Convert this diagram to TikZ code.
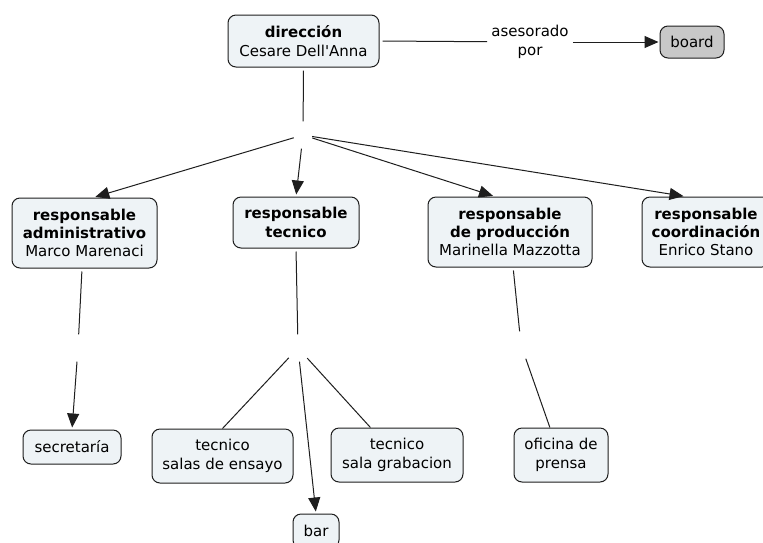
\documentclass[tikz,border=0pt]{standalone}
\usepackage{fontspec}
\setmainfont{DejaVu Sans}[Ligatures=TeXOff]
\usetikzlibrary{arrows.meta}
\definecolor{boxfill}{RGB}{238,243,246}
\definecolor{boardfill}{RGB}{200,200,200}
\definecolor{edge}{RGB}{30,30,30}

\begin{document}
\begin{tikzpicture}[x=1pt,y=-1pt,
  concept/.style={draw=edge, line width=1pt, rounded corners=8pt, fill=boxfill,
    inner sep=0pt, align=center, font=\fontsize{15}{18.3}\selectfont},
  linker/.style={inner sep=0pt, minimum width=18pt, minimum height=27pt},
  phrase/.style={inner sep=4pt, align=center, font=\fontsize{15}{18.3}\selectfont},
  conn/.style={draw=edge, line width=1pt},
  arr/.style={conn, -{Triangle[length=14pt,width=12pt]}, shorten >=2pt}
]
\fill[white] (0,0) rectangle (763,542);
\useasboundingbox (0,0) rectangle (763,542);

% concepts
\node[concept, minimum width=151pt, minimum height=52pt] (dir) at (303.5,41)
  {\textbf{dirección}\\Cesare Dell'Anna};
\node[concept, fill=boardfill, minimum width=64pt, minimum height=32pt] (board) at (692,42) {board};
\node[phrase] (ase) at (530,42) {asesorado\\por};

\node[concept, minimum width=145pt, minimum height=70pt] (adm) at (84.5,233)
  {\textbf{responsable}\\\textbf{administrativo}\\Marco Marenaci};
\node[concept, minimum width=126pt, minimum height=51pt] (tec) at (296,222.5)
  {\textbf{responsable}\\\textbf{tecnico}};
\node[concept, minimum width=164pt, minimum height=70pt] (prod) at (510,232)
  {\textbf{responsable}\\\textbf{de producción}\\Marinella Mazzotta};
\node[concept, minimum width=128pt, minimum height=70pt] (coord) at (706,232)
  {\textbf{responsable}\\\textbf{coordinación}\\Enrico Stano};

\node[concept, minimum width=98pt, minimum height=34pt] (sec) at (72,447) {secretaría};
\node[concept, minimum width=141pt, minimum height=54pt] (salas) at (222.5,456)
  {tecnico\\salas de ensayo};
\node[concept, minimum width=132pt, minimum height=54pt] (grab) at (397,455)
  {tecnico\\sala grabacion};
\node[concept, minimum width=46pt, minimum height=34pt] (bar) at (316,531) {bar};
\node[concept, minimum width=94pt, minimum height=54pt] (ofi) at (561,455)
  {oficina de\\prensa};

% empty linking points
\node[linker] (lk1) at (303,135) {};
\node[linker] (lk2) at (78,348) {};
\node[linker] (lk3) at (298,348) {};
\node[linker] (lk4) at (521,345) {};

% connectors
\draw[conn, shorten <=3pt] (dir.east) -- (ase);
\draw[arr, shorten >=1pt] (ase) -- (board.west);

\draw[conn, shorten <=3pt] (dir.south) -- (lk1);
\draw[arr] (lk1) -- (adm.76);
\draw[arr] (lk1) -- (tec.north);
\draw[arr] (lk1) -- (prod.113);
\draw[arr] (lk1) -- (coord.120);

\draw[conn, shorten <=3pt] (adm.-94) -- (lk2);
\draw[arr] (lk2) -- (sec.north);

\draw[conn, shorten <=3pt] (tec.south) -- (lk3);
\draw[conn] (lk3) -- (salas.north);
\draw[arr] (lk3) -- (bar.north);
\draw[conn] (lk3) -- (grab.134);

\draw[conn, shorten <=3pt] (prod.-85) -- (lk4);
\draw[conn] (lk4) -- (ofi.112);
\end{tikzpicture}
\end{document}
